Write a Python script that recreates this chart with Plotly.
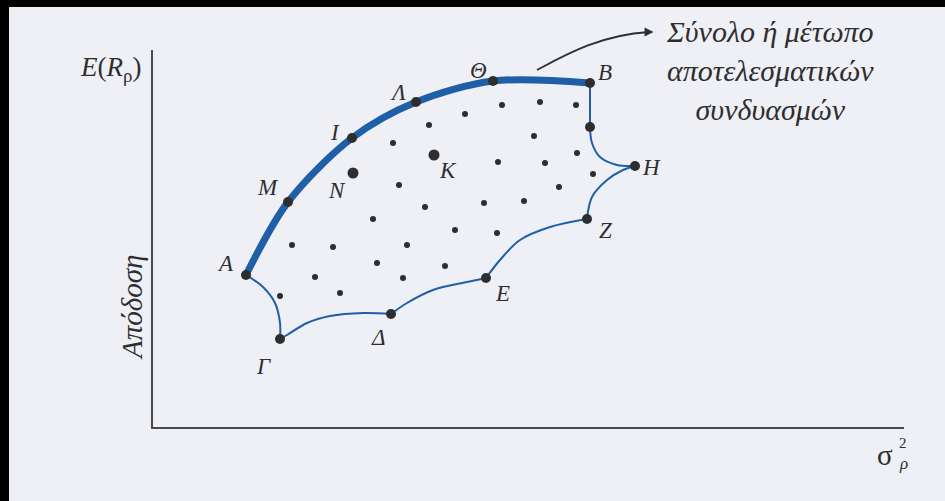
import plotly.graph_objects as go

# σ² (x) and E(R) (y) in arbitrary units
frontier_names = ['A', 'M', 'I', 'Λ', 'Θ', 'B']
frontier_x = [9.3, 13.5, 19.9, 26.3, 34.0, 43.7]
frontier_y = [15.2, 22.5, 28.9, 32.5, 34.6, 34.4]

corner_names = ['H', 'Z', 'E', 'Δ', 'Γ']
corner_x = [48.2, 43.4, 33.3, 23.8, 12.7]
corner_y = [26.1, 20.8, 14.9, 11.3, 8.8]

inner_names = ['K', 'N']
inner_x = [28.1, 20.0]
inner_y = [27.2, 25.4]

edge_point_x = [43.7]
edge_point_y = [30.0]

# lower / right boundary, one list per scalloped segment
edge_segments = [
    ([9.3, 11.0, 12.2, 12.7, 12.7], [15.2, 14.0, 12.4, 10.4, 8.8]),
    ([12.7, 13.4, 15.4, 17.7, 21.0, 23.8], [8.8, 9.2, 10.4, 11.1, 11.4, 11.3]),
    ([23.8, 25.4, 28.0, 31.4, 33.3], [11.3, 12.4, 13.7, 14.5, 14.9]),
    ([33.3, 34.7, 36.7, 39.7, 43.4], [14.9, 16.7, 18.7, 20.0, 20.8]),
    ([43.4, 43.9, 45.4, 47.0, 48.2], [20.8, 23.0, 24.7, 25.7, 26.1]),
    ([48.2, 46.4, 44.7, 43.9, 43.7], [26.1, 26.2, 27.0, 28.4, 30.0]),
    ([43.7, 43.7], [30.0, 34.4]),
]

dots_x = [34.9, 38.7, 42.3, 31.2, 27.6, 38.1, 24.0, 34.5, 39.2, 42.4, 44.0, 24.6, 40.6, 27.2,
          33.1, 37.1, 22.0, 30.2, 34.4, 13.9, 18.0, 25.4, 22.4, 29.2, 16.2, 25.0, 12.7, 18.7]
dots_y = [32.2, 32.5, 32.2, 31.3, 30.2, 29.1, 28.4, 26.5, 26.4, 27.4, 25.3, 24.2, 24.0, 22.0,
          22.4, 22.6, 20.8, 19.7, 19.4, 18.2, 18.0, 18.2, 16.4, 16.1, 15.0, 14.9, 13.1, 13.4]

# label offsets in pixels (dx, dy up)
label_shift = {
    'A': (-21, 12), 'M': (-20, 15), 'I': (-17, 6), 'Λ': (-18, 10), 'Θ': (-15, 11),
    'B': (15, 11), 'K': (14, -15), 'N': (-16, -17), 'H': (16, -1), 'Z': (18, -11),
    'E': (16, -15), 'Δ': (-13, -23), 'Γ': (-17, -27),
}

note_text = 'Σύνολο ή μέτωπο<br>αποτελεσματικών<br>συνδυασμών'
# curved pointer, paper coords: start, control 1, control 2, end
pointer = [(0.5113, 0.947), (0.5486, 0.9867), (0.5952, 1.0398), (0.6605, 1.0477)]

blue = '#1f5fa8'
ink = '#2e2e2e'
serif = 'Liberation Serif'
paper = '#eef0f6'

fig = go.Figure()

for sx, sy in edge_segments:
    fig.add_trace(go.Scatter(x=sx, y=sy, mode='lines',
                             line=dict(color=blue, width=2, shape='spline', smoothing=1.0),
                             hoverinfo='skip', showlegend=False))

fig.add_trace(go.Scatter(x=frontier_x, y=frontier_y, mode='lines',
                         line=dict(color=blue, width=7, shape='spline', smoothing=0.9),
                         hoverinfo='skip', showlegend=False))

fig.add_trace(go.Scatter(x=dots_x, y=dots_y, mode='markers',
                         marker=dict(color=ink, size=6), showlegend=False))

fig.add_trace(go.Scatter(x=frontier_x + corner_x + edge_point_x,
                         y=frontier_y + corner_y + edge_point_y, mode='markers',
                         marker=dict(color=ink, size=10), showlegend=False))

fig.add_trace(go.Scatter(x=inner_x, y=inner_y, mode='markers',
                         marker=dict(color=ink, size=11), showlegend=False))

annotations = []
all_names = frontier_names + corner_names + inner_names
all_x = frontier_x + corner_x + inner_x
all_y = frontier_y + corner_y + inner_y
for n, x, y in zip(all_names, all_x, all_y):
    dx, dy = label_shift[n]
    annotations.append(dict(x=x, y=y, text='<i>' + n + '</i>', showarrow=False,
                            xshift=dx, yshift=dy, xanchor='center', yanchor='middle',
                            font=dict(family=serif, size=23, color=ink)))


def paper_text(x, y, text, size, **kw):
    return dict(xref='paper', yref='paper', x=x, y=y, text=text, showarrow=False,
                xanchor='center', yanchor='middle',
                font=dict(family=serif, size=size, color=ink), **kw)


# axis titles
annotations.append(paper_text(-0.057, 0.95, '<i>E</i>(<i>R</i><sub>ρ</sub>)', 27))
annotations.append(paper_text(-0.028, 0.318, '<i>Απόδοση</i>', 29, textangle=-90))
annotations.append(paper_text(0.975, -0.074, 'σ', 29))
annotations.append(paper_text(0.999, -0.043, '2', 15))
annotations.append(paper_text(0.999, -0.097, '<i>ρ</i>', 17))

# note and arrowhead
annotations.append(paper_text(0.822, 0.945, '<i>' + note_text + '</i>', 30, align='center'))
annotations.append(dict(xref='paper', yref='paper', x=pointer[-1][0] + 0.006, y=pointer[-1][1],
                        ax=-8, ay=0, text='', showarrow=True, arrowhead=2, arrowsize=1.2,
                        arrowwidth=1.5, arrowcolor=ink))

p = pointer
path = 'M {},{} C {},{} {},{} {},{}'.format(p[0][0], p[0][1], p[1][0], p[1][1],
                                             p[2][0], p[2][1], p[3][0], p[3][1])
shapes = [dict(type='path', xref='paper', yref='paper', path=path,
               line=dict(color=ink, width=1.8))]

fig.update_layout(
    width=945, height=501,
    margin=dict(l=153, r=41, t=50, b=74),
    paper_bgcolor=paper, plot_bgcolor=paper,
    annotations=annotations, shapes=shapes,
    showlegend=False,
    xaxis=dict(range=[0, 75.1], showgrid=False, zeroline=False, showticklabels=False,
               ticks='', showline=True, linecolor='#4a4a4a', linewidth=2, fixedrange=True),
    yaxis=dict(range=[0, 37.7], showgrid=False, zeroline=False, showticklabels=False,
               ticks='', showline=True, linecolor='#4a4a4a', linewidth=2, fixedrange=True),
)

# black scan border on the left and top, laid over the graph div
border_js = """
document.body.style.margin = '0';
document.body.style.overflow = 'hidden';
var gd = document.getElementById('{plot_id}');
gd.style.position = 'relative';
[['0px', '0px', '9px', '501px'], ['0px', '0px', '945px', '7px']].forEach(function (b) {
    var d = document.createElement('div');
    d.style.cssText = 'position:absolute;background:#000;z-index:1000;pointer-events:none;' +
        'left:' + b[0] + ';top:' + b[1] + ';width:' + b[2] + ';height:' + b[3] + ';';
    gd.appendChild(d);
});
"""

fig.write_html("out.html", config={'displayModeBar': False}, post_script=border_js)
